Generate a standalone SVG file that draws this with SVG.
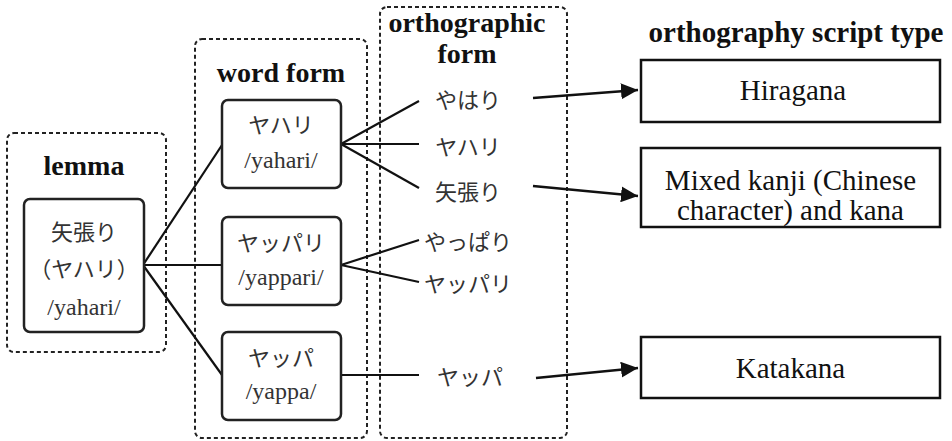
<svg xmlns="http://www.w3.org/2000/svg" width="952" height="441" viewBox="0 0 952 441">
<style>
.dash{fill:none;stroke:#222;stroke-width:2;stroke-dasharray:4 3}
.node{fill:#fff;stroke:#222;stroke-width:2.5}
.box{fill:#fff;stroke:#111;stroke-width:2.5}
.hdr{font-family:'Liberation Serif','Times New Roman',serif;font-weight:bold;font-size:28px;fill:#111;text-anchor:middle}
.lat{font-family:'Liberation Serif','Times New Roman',serif;font-size:24px;fill:#333;text-anchor:middle}
.jp{font-family:'Noto Sans CJK JP','Noto Sans CJK SC',sans-serif;font-size:22px;fill:#333;text-anchor:middle;dominant-baseline:central}
.big{font-family:'Liberation Serif','Times New Roman',serif;font-size:29px;fill:#111;text-anchor:middle}
.ln{stroke:#111;stroke-width:2.2;fill:none}
.ar{stroke:#111;stroke-width:2.5;fill:none;marker-end:url(#ah)}
</style>
<defs>
<marker id="ah" markerUnits="userSpaceOnUse" markerWidth="18" markerHeight="16" refX="17" refY="8" orient="auto">
<path d="M0,0 L17,8 L0,16 Z" fill="#111"/>
</marker>
</defs>
<rect width="952" height="441" fill="#fff"/>

<g id="group-lemma">
<rect class="dash" x="7" y="133" width="159" height="219" rx="7"/>
<text class="hdr" x="84" y="175">lemma</text>
</g>
<g id="group-wordform">
<rect class="dash" x="195" y="39" width="172" height="399" rx="7"/>
<text class="hdr" x="281" y="82">word form</text>
</g>
<g id="group-ortho">
<rect class="dash" x="380" y="7" width="187" height="431" rx="7"/>
<text class="hdr" x="467" y="32">orthographic</text>
<text class="hdr" x="467" y="63">form</text>
</g>
<text class="hdr" x="796" y="42" style="font-size:29px">orthography script type</text>

<g id="connectors">
<line class="ln" x1="143" y1="265" x2="222" y2="145"/>
<line class="ln" x1="143" y1="265" x2="222" y2="265"/>
<line class="ln" x1="143" y1="265" x2="222" y2="375"/>
<line class="ln" x1="341" y1="144" x2="419" y2="101"/>
<line class="ln" x1="341" y1="144" x2="419" y2="144"/>
<line class="ln" x1="341" y1="144" x2="419" y2="188"/>
<line class="ln" x1="341" y1="265" x2="419" y2="240"/>
<line class="ln" x1="341" y1="265" x2="419" y2="282"/>
<line class="ln" x1="341" y1="375" x2="419" y2="375"/>
<line class="ar" x1="533" y1="98" x2="638" y2="90"/>
<line class="ar" x1="533" y1="186" x2="638" y2="196"/>
<line class="ar" x1="536" y1="378" x2="638" y2="368"/>
</g>

<g id="node-lemma">
<rect class="node" x="24" y="199" width="120" height="133" rx="6"/>
<text class="jp" x="84" y="230">矢張り</text>
<text class="jp" x="84" y="267">（ヤハリ）</text>
<text class="lat" x="84" y="315">/yahari/</text>
</g>

<g id="node-yahari">
<rect class="node" x="222" y="100" width="119" height="88" rx="6"/>
<text class="jp" x="281" y="123">ヤハリ</text>
<text class="lat" x="281" y="168">/yahari/</text>
</g>
<g id="node-yappari">
<rect class="node" x="222" y="217" width="119" height="88" rx="6"/>
<text class="jp" x="281" y="241">ヤッパリ</text>
<text class="lat" x="281" y="285">/yappari/</text>
</g>
<g id="node-yappa">
<rect class="node" x="222" y="332" width="119" height="88" rx="6"/>
<text class="jp" x="281" y="356">ヤッパ</text>
<text class="lat" x="281" y="399">/yappa/</text>
</g>

<g id="ortho-yahari-hira"><text class="jp" x="468" y="98">やはり</text></g>
<g id="ortho-yahari-kata"><text class="jp" x="468" y="145">ヤハリ</text></g>
<g id="ortho-yahari-kanji"><text class="jp" x="468" y="190">矢張り</text></g>
<g id="ortho-yappari-hira"><text class="jp" x="468" y="240">やっぱり</text></g>
<g id="ortho-yappari-kata"><text class="jp" x="468" y="282">ヤッパリ</text></g>
<g id="ortho-yappa-kata"><text class="jp" x="470" y="375">ヤッパ</text></g>

<g id="type-hiragana">
<rect class="box" x="641" y="60" width="299" height="62"/>
<text class="big" x="793" y="100">Hiragana</text>
</g>
<g id="type-mixed">
<rect class="box" x="641" y="148" width="299" height="79"/>
<text class="big" x="790.5" y="190">Mixed kanji (Chinese</text>
<text class="big" x="790.5" y="220">character) and kana</text>
</g>
<g id="type-katakana">
<rect class="box" x="641" y="337" width="299" height="61"/>
<text class="big" x="790.5" y="378">Katakana</text>
</g>
</svg>
